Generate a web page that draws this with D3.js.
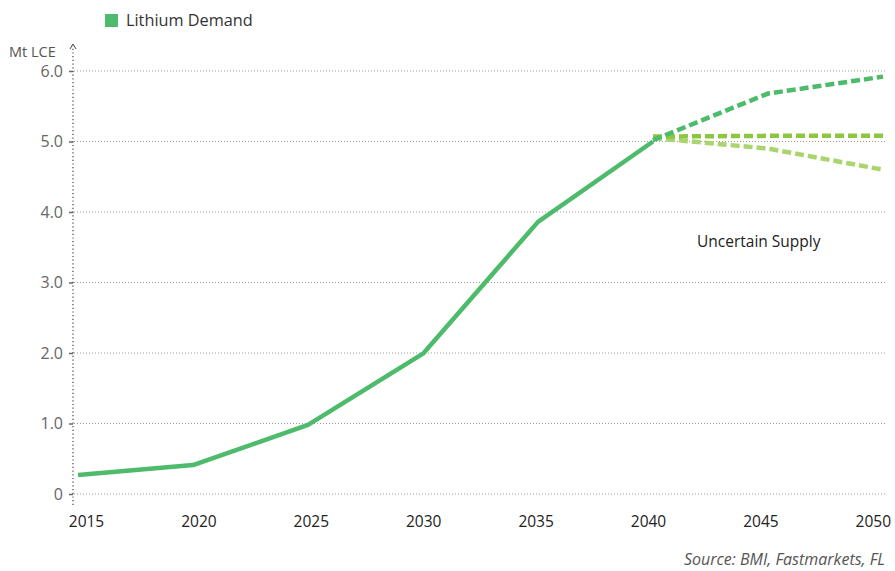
<!DOCTYPE html>
<html>
<head>
<meta charset="utf-8">
<script src="https://cdn.jsdelivr.net/npm/d3@7"></script>
<style>
  body { margin: 0; background: #fff; }
  text { font-family: "Open Sans", sans-serif; }
</style>
</head>
<body>
<div id="canvas"></div>
<script>
"use strict"

// data
let years = [2015, 2020, 2025, 2030, 2035, 2040]
let demand = [0.27, 0.41, 0.98, 1.99, 3.86, 5.0]

let scenarioYears = [2040, 2045, 2050]
let highCase = [5.02, 5.68, 5.92]
let flatCase = [5.07, 5.08, 5.08]
let lowCase = [5.05, 4.9, 4.6]

let xTicks = [2015, 2020, 2025, 2030, 2035, 2040, 2045, 2050]
let yTicks = [0, 1, 2, 3, 4, 5, 6]

let drawing = d3.select("#canvas")
    .append("svg")
    .attr("width", 895)
    .attr("height", 571)

let x = d3.scaleLinear().domain([2015, 2050]).range([78, 883])
let y = d3.scaleLinear().domain([0, 6]).range([494, 71])

// gridlines
drawing.append("g")
    .selectAll("line")
    .data(yTicks)
    .join("line")
    .attr("x1", 74)
    .attr("x2", 885)
    .attr("y1", d => y(d))
    .attr("y2", d => y(d))
    .attr("stroke", "#9a9a9a")
    .attr("stroke-width", 1)
    .attr("stroke-dasharray", "1,2")

// y axis
let yAxis = drawing.append("g")
    .attr("transform", "translate(73,0)")
    .call(d3.axisLeft(y).tickValues(yTicks).tickSize(6).tickPadding(4)
        .tickFormat(d => d === 0 ? "0" : d3.format(".1f")(d)))
yAxis.select(".domain").remove()
yAxis.selectAll(".tick line").attr("stroke", "#666").attr("stroke-width", 1.5).attr("x2", -4)
yAxis.selectAll(".tick text")
    .attr("fill", "#666")
    .attr("font-size", 16)
    .attr("font-family", "'Open Sans', sans-serif")

drawing.append("line")
    .attr("x1", 73).attr("x2", 73)
    .attr("y1", 505).attr("y2", 46)
    .attr("stroke", "#444")
    .attr("stroke-width", 1.2)
    .attr("stroke-dasharray", "1.2,2.5")
drawing.append("path")
    .attr("d", "M70,49 L73,44 L76,49")
    .attr("fill", "none")
    .attr("stroke", "#444")
    .attr("stroke-width", 1)

drawing.append("text")
    .attr("x", 9).attr("y", 57)
    .attr("font-size", 14.5)
    .attr("fill", "#555")
    .text("Mt LCE")

// x axis labels
let xAxis = drawing.append("g")
    .attr("transform", "translate(0,511)")
    .call(d3.axisBottom(x).tickValues(xTicks).tickSize(0).tickPadding(5).tickFormat(d3.format("d")))
xAxis.select(".domain").remove()
xAxis.selectAll(".tick text")
    .attr("fill", "#222")
    .attr("font-size", 15.5)
    .attr("font-family", "'Open Sans', sans-serif")
    .attr("dx", (d, i) => 8 - i * 2.6)

// lines
let line = d3.line().x(d => x(d[0])).y(d => y(d[1]))

drawing.append("path")
    .datum(years.map((yr, i) => [yr, demand[i]]))
    .attr("d", line)
    .attr("fill", "none")
    .attr("stroke", "#4dbb6b")
    .attr("stroke-width", 4.5)
    .attr("stroke-linejoin", "round")

let scenarios = [
    { vals: lowCase, color: "#a9d46e" },
    { vals: flatCase, color: "#8dc63f" },
    { vals: highCase, color: "#4dbb6b" }
]
drawing.append("g")
    .selectAll("path")
    .data(scenarios)
    .join("path")
    .attr("d", s => line(scenarioYears.map((yr, i) => [yr, s.vals[i]])))
    .attr("fill", "none")
    .attr("stroke", s => s.color)
    .attr("stroke-width", 4.5)
    .attr("stroke-dasharray", "9,4")

drawing.append("text")
    .attr("x", 697).attr("y", 247)
    .attr("font-size", 15.5)
    .attr("fill", "#222")
    .text("Uncertain Supply")

// legend
drawing.append("rect")
    .attr("x", 105).attr("y", 14)
    .attr("width", 13).attr("height", 13)
    .attr("fill", "#4dbb6b")
drawing.append("text")
    .attr("x", 126).attr("y", 26)
    .attr("font-size", 16.3)
    .attr("fill", "#333")
    .text("Lithium Demand")

drawing.append("text")
    .attr("x", 885).attr("y", 565)
    .attr("text-anchor", "end")
    .attr("font-size", 16)
    .attr("font-style", "italic")
    .attr("fill", "#555")
    .text("Source: BMI, Fastmarkets, FL")
</script>
</body>
</html>
